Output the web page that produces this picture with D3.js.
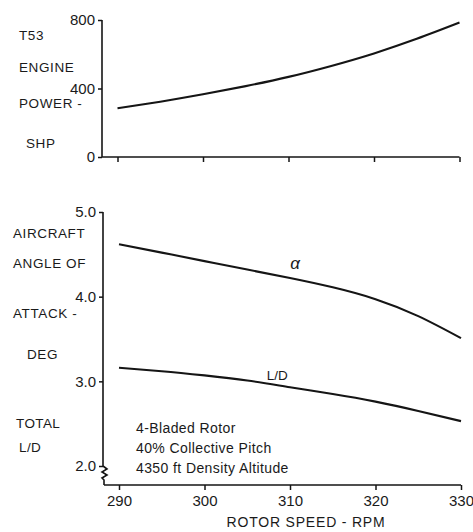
<!DOCTYPE html>
<html><head><meta charset="utf-8">
<script src="https://cdn.jsdelivr.net/npm/d3@7"></script>
<style>
body{margin:0;background:#fff;}
text{font-family:"Liberation Sans",Arial,sans-serif;fill:#1a1a1a;}
</style></head>
<body><svg id="c" width="473" height="532"></svg>
<script>
// ---- data ----
const rpm = [290, 295, 300, 305, 310, 315, 320, 325, 330];
const power = [285, 323, 366, 414, 468, 532, 605, 690, 785];
const alpha = [4.62, 4.52, 4.42, 4.32, 4.22, 4.11, 3.97, 3.77, 3.51];
const liftDrag = [3.16, 3.12, 3.07, 3.01, 2.93, 2.85, 2.76, 2.65, 2.53];
const xTicks = [290, 300, 310, 320, 330];
const powerTicks = [0, 400, 800];
const bottomTicks = [2.0, 3.0, 4.0, 5.0];
const topLabel = ["T53", "ENGINE", "POWER -", "SHP"];
const bottomLabelA = ["AIRCRAFT", "ANGLE OF", "ATTACK -", "DEG"];
const bottomLabelB = ["TOTAL", "L/D"];
const notes = ["4-Bladed Rotor", "40% Collective Pitch", "4350 ft Density Altitude"];
const xTitle = "ROTOR SPEED - RPM";

const svg = d3.select("#c");
const ink = "#151515";

// ---- top panel ----
const xT = d3.scaleLinear().domain([290, 330]).range([117.5, 459.5]);
const yT = d3.scaleLinear().domain([0, 800]).range([157, 20]);

svg.append("line").attr("x1", 102).attr("x2", 102).attr("y1", yT(800)).attr("y2", yT(0))
  .attr("stroke", ink).attr("stroke-width", 1.6);
svg.append("line").attr("x1", 102).attr("x2", xT(330)).attr("y1", yT(0)).attr("y2", yT(0))
  .attr("stroke", ink).attr("stroke-width", 1.6);

const gyT = svg.append("g").attr("transform", "translate(102,0)")
  .call(d3.axisLeft(yT).tickValues(powerTicks).tickSize(4).tickPadding(3).tickFormat(d3.format("d")));
const gxT = svg.append("g").attr("transform", `translate(0,${yT(0)})`)
  .call(d3.axisBottom(xT).tickValues(xTicks).tickSize(5).tickFormat(""));

const lineT = d3.line().x((d, i) => xT(rpm[i])).y(d => yT(d)).curve(d3.curveNatural);
svg.append("path").datum(power).attr("d", lineT).attr("fill", "none")
  .attr("stroke", ink).attr("stroke-width", 2.1);

const topLabelY = [35, 67, 103, 143];
const topLabelX = [19, 19, 19, 26];
topLabel.forEach((t, i) => svg.append("text").attr("x", topLabelX[i]).attr("y", topLabelY[i])
  .attr("dy", "0.35em").attr("font-size", 13.5).attr("letter-spacing", 0.6).text(t));

// ---- bottom panel ----
const xB = d3.scaleLinear().domain([290, 330]).range([119, 461]);
const yB = d3.scaleLinear().domain([2, 5]).range([466, 212]);
const axisY = 485;

svg.append("path")
  .attr("d", `M103,${yB(5)} L103,${yB(2)} l4,3 l-5,3 l5,3 l-5,3 l2,2 L104,${axisY}`)
  .attr("fill", "none").attr("stroke", ink).attr("stroke-width", 1.6);
svg.append("line").attr("x1", 104).attr("x2", xB(330)).attr("y1", axisY).attr("y2", axisY)
  .attr("stroke", ink).attr("stroke-width", 1.6);

const gyB = svg.append("g").attr("transform", "translate(103,0)")
  .call(d3.axisLeft(yB).tickValues(bottomTicks).tickSize(4).tickPadding(3).tickFormat(d3.format(".1f")));
const gxB = svg.append("g").attr("transform", `translate(0,${axisY})`)
  .call(d3.axisBottom(xB).tickValues(xTicks).tickSize(5).tickPadding(5).tickFormat(d3.format("d")));

[gyT, gxT, gyB, gxB].forEach(g => {
  g.select(".domain").remove();
  g.selectAll("line").attr("stroke", ink).attr("stroke-width", 1.5);
  g.selectAll("text").attr("font-size", 15).attr("fill", ink)
    .style("font-family", "'Liberation Sans',Arial,sans-serif");
});

const lineB = d3.line().x((d, i) => xB(rpm[i])).y(d => yB(d)).curve(d3.curveNatural);
svg.append("path").datum(alpha).attr("d", lineB).attr("fill", "none")
  .attr("stroke", ink).attr("stroke-width", 2.1);
svg.append("path").datum(liftDrag).attr("d", lineB).attr("fill", "none")
  .attr("stroke", ink).attr("stroke-width", 2.1);

svg.append("text").attr("x", xB(310.6)).attr("y", yB(4.28) - 4).attr("text-anchor", "middle")
  .attr("font-size", 17).attr("font-style", "italic").text("α");
svg.append("text").attr("x", xB(308.5)).attr("y", yB(2.93) - 12).attr("text-anchor", "middle")
  .attr("dy", "0.35em").attr("font-size", 13.5).text("L/D");

const bLabelY = [233, 263, 313, 354];
const bLabelX = [13, 13, 13, 27];
bottomLabelA.forEach((t, i) => svg.append("text").attr("x", bLabelX[i]).attr("y", bLabelY[i])
  .attr("dy", "0.35em").attr("font-size", 13.5).attr("letter-spacing", 0.6).text(t));
const cLabelY = [423, 447];
const cLabelX = [16, 19];
bottomLabelB.forEach((t, i) => svg.append("text").attr("x", cLabelX[i]).attr("y", cLabelY[i])
  .attr("dy", "0.35em").attr("font-size", 13.5).attr("letter-spacing", 0.4).text(t));

notes.forEach((t, i) => svg.append("text").attr("x", 136).attr("y", 433 + i * 20)
  .attr("font-size", 14).attr("letter-spacing", 0.4).text(t));

svg.append("text").attr("x", 306).attr("y", 527).attr("text-anchor", "middle")
  .attr("font-size", 14).attr("letter-spacing", 0.8).text(xTitle);
</script></body></html>
